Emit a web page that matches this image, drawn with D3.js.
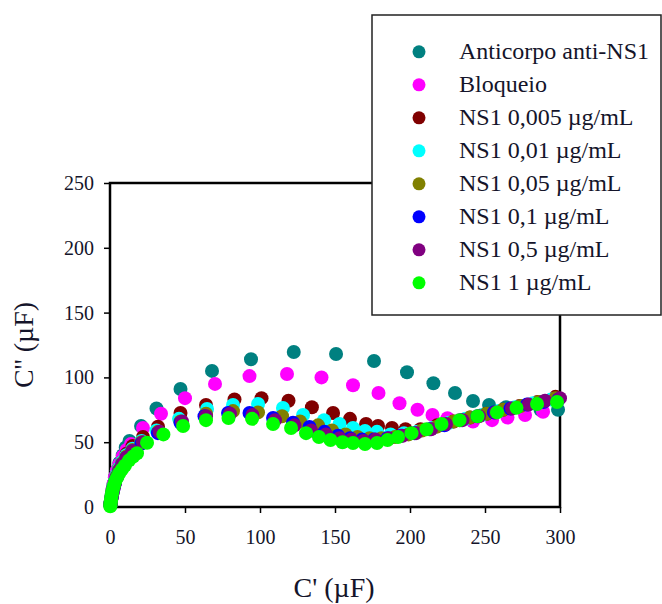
<!DOCTYPE html>
<html>
<head>
<meta charset="utf-8">
<script src="https://cdn.jsdelivr.net/npm/d3@7"></script>
<style>
  body { margin: 0; background: #fff; }
  svg { display: block; font-family: "Liberation Serif", "Times New Roman", serif; }
</style>
</head>
<body>
<svg id="chart" width="662" height="604"></svg>
<script>
// series names and colours (legend order = draw order)
var seriesNames = ["Anticorpo anti-NS1", "Bloqueio", "NS1 0,005 \u00b5g/mL", "NS1 0,01 \u00b5g/mL",
    "NS1 0,05 \u00b5g/mL", "NS1 0,1 \u00b5g/mL", "NS1 0,5 \u00b5g/mL", "NS1 1 \u00b5g/mL"];
var seriesColors = ["#008080", "#ff00ff", "#800000", "#00ffff", "#808000", "#0000ff", "#800080", "#00ff00"];

var xTicks = [0, 50, 100, 150, 200, 250, 300];
var yTicks = [0, 50, 100, 150, 200, 250];

// [C', C''] pairs
var anticorpo = [[0.3,2],[0.5,4],[0.8,7],[1.2,10],[1.7,14],[2.4,18],[3.3,23],[4.5,28],[6.2,34],[8.5,40],[10.5,46],[13,51],
    [20.7,62.5],[31,76],[47,91],[68,105],[94,114],[122.5,119.6],[150.7,118],[176,112.6],[198,104],[215.6,95.5],
    [230,88],[242,81.8],[252.7,78.7],[264,77],[275,76],[287,75],[298.7,75]];
var bloqueio = [[0.3,2],[0.5,4],[0.8,7],[1.2,10],[1.7,14],[2.4,18],[3.3,23],[4.6,28],[6.3,33],[8.5,39],[11,44],[14,48.6],
    [22,61],[34,72],[50,84],[70,95],[93,101],[118,102.6],[141,100],[162,94],[179,88],[193,80],[205,75],[215,71],
    [225,68.5],[233,67],[242,66],[254.7,67],[265,69],[276.7,71],[288.7,73.5]];
var ns1_0005 = [[0.3,2],[0.5,4],[0.8,6],[1.2,9],[1.7,12],[2.4,16],[3.3,20],[4.5,25],[6.2,30],[8.3,35],[11,41],[15,47],
    [22,54],[32,62],[47,72.5],[64,78.7],[83,83],[101,84],[119,82],[134.6,77],[148.7,72.5],[160,68],[170.7,64],
    [178.7,62.5],[188,61],[197,60],[207,60],[218,63],[229,66],[240,69],[251,72],[262,75],[273,78],[285,81],[297,85]];
var ns1_001 = [[0.3,1.5],[0.5,3.5],[0.8,6],[1.2,9],[1.7,12],[2.4,16],[3.3,20],[4.5,25],[6.2,30],[8.3,35],[11,40],[15,45],
    [21,51],[31,59],[46,68],[64.7,75.6],[82,78.7],[98.7,79.5],[115.3,76.4],[128.7,71],[142.7,67],[153,64],[162,61],
    [170,58.6],[178,58],[187,56],[196,57],[205,58],[215,61],[226,65],[237,68],[248,71],[259,74],[270,77],[282,80],[294,83]];
var ns1_005 = [[0.3,1.5],[0.5,3],[0.8,5.5],[1.2,8.5],[1.7,11.5],[2.4,15],[3.3,19],[4.5,24],[6.2,29],[8.3,34],[11,39],[15,44],
    [21,50],[32,58],[47,66],[64,72],[82,74],[98.7,73],[114.7,70],[126.7,66],[138.7,63],[148,59],[157,56],[165,54],
    [173,53],[181,53],[190,54],[199,56],[208,59],[218,62],[229,66],[240,69],[251,72],[262,75],[274,78],[286,81],[297,84]];
var ns1_01 = [[0.3,1.5],[0.5,3],[0.8,5.5],[1.2,8],[1.7,11],[2.4,14.5],[3.3,18.5],[4.5,23],[6.2,28],[8.3,33],[11,38],[15,43],
    [21,49],[32,57],[47,65],[63,70],[78.7,72.5],[93,72.5],[108.7,68.7],[122,65],[133,61.7],[143,58],[152,55],[160,53],
    [168,52],[176,52],[185,53],[194,55],[203,57],[213,60],[223,63],[234,67],[245,70],[256,73],[267,76],[278,79],[289,81],[299,83]];
var ns1_05 = [[0.3,1.5],[0.5,3],[0.8,5.5],[1.2,8],[1.7,11],[2.4,14.5],[3.3,18.5],[4.5,23],[6.2,28],[8.3,33],[11,38],[15,43],
    [22,50],[33,58],[48,66],[64,70],[80,72],[95,71],[110,67],[123,63],[134,59],[144,56],[153,53],[161,52],
    [169,51],[177,52],[186,53],[195,55],[204,57],[214,60],[224,64],[235,67],[246,70],[257,73],[268,76],[279,79],[290,82],[300,84]];
var ns1_1 = [[0.2,0.5],[0.3,2],[0.4,3.5],[0.6,5],[0.8,7],[1.1,9],[1.5,11.5],[2,14],[2.7,17],[3.6,20],[4.8,23],[6.2,26],
    [8,29],[10,32],[12.7,36],[15.5,39],[18,41.5],[24.7,49.6],[35.6,56],[48.7,62.5],[64,67],[79,68.7],[94.7,68],[108.7,64],
    [120.7,61],[130.7,57],[139.3,54],[147,51.7],[155,50],[162,49.4],[170,48.6],[178,49.4],[185,51.7],[192,54],[201,57],
    [211,60],[221,64],[233,67],[245,70],[258,73],[271,76.5],[284.7,79.5],[298,81]];

var allSeries = [anticorpo, bloqueio, ns1_0005, ns1_001, ns1_005, ns1_01, ns1_05, ns1_1];

var svg = d3.select("#chart");

// plot area
var x = d3.scaleLinear().domain([0, 300]).range([110, 560]);
var y = d3.scaleLinear().domain([0, 250]).range([507, 183]);

//坐标轴
var xAxis = d3.axisBottom(x).tickValues(xTicks).tickSize(6).tickSizeOuter(0).tickPadding(17);
var yAxis = d3.axisLeft(y).tickValues(yTicks).tickSize(6).tickSizeOuter(0).tickPadding(10);

var gx = svg.append("g").attr("transform", "translate(0,507)").call(xAxis);
var gy = svg.append("g").attr("transform", "translate(110,0)").call(yAxis);

[gx, gy].forEach(function (g) {
    g.select(".domain").remove();
    g.selectAll(".tick line").attr("stroke", "#000").attr("stroke-width", 1.5);
    g.selectAll(".tick text")
        .attr("fill", "#14142a")
        .attr("font-size", 20)
        .attr("font-family", "Liberation Serif, Times New Roman, serif");
});

// frame round the plot
svg.append("rect")
    .attr("x", x(0))
    .attr("y", y(250))
    .attr("width", x(300) - x(0))
    .attr("height", y(0) - y(250))
    .attr("fill", "none")
    .attr("stroke", "#000")
    .attr("stroke-width", 2.5);

// points
allSeries.forEach(function (data, i) {
    svg.append("g")
        .attr("fill", seriesColors[i])
        .selectAll("circle")
        .data(data)
        .enter()
        .append("circle")
        .attr("cx", function (d) { return x(d[0]); })
        .attr("cy", function (d) { return y(d[1]); })
        .attr("r", 7);
});

// axis titles
svg.append("text")
    .attr("x", 334)
    .attr("y", 597)
    .attr("text-anchor", "middle")
    .attr("font-size", 28)
    .attr("fill", "#14142a")
    .text("C' (\u00b5F)");

svg.append("text")
    .attr("transform", "translate(33,345) rotate(-90)")
    .attr("text-anchor", "middle")
    .attr("font-size", 28)
    .attr("fill", "#14142a")
    .text("C'' (\u00b5F)");

// legend
var lg = svg.append("g").attr("id", "legend");
lg.append("rect")
    .attr("x", 372)
    .attr("y", 15)
    .attr("width", 289)
    .attr("height", 300)
    .attr("fill", "#fff")
    .attr("stroke", "#222")
    .attr("stroke-width", 1.5);

var rows = lg.selectAll("g.row")
    .data(seriesNames)
    .enter()
    .append("g")
    .attr("class", "row")
    .attr("transform", function (d, i) { return "translate(0," + (59.3 + i * 33) + ")"; });

rows.append("circle")
    .attr("cx", 419)
    .attr("cy", -7.5)
    .attr("r", 6.5)
    .attr("fill", function (d, i) { return seriesColors[i]; });

rows.append("text")
    .attr("x", 459)
    .attr("y", 0)
    .attr("font-size", 24)
    .attr("fill", "#14142a")
    .text(function (d) { return d; });
</script>
</body>
</html>
